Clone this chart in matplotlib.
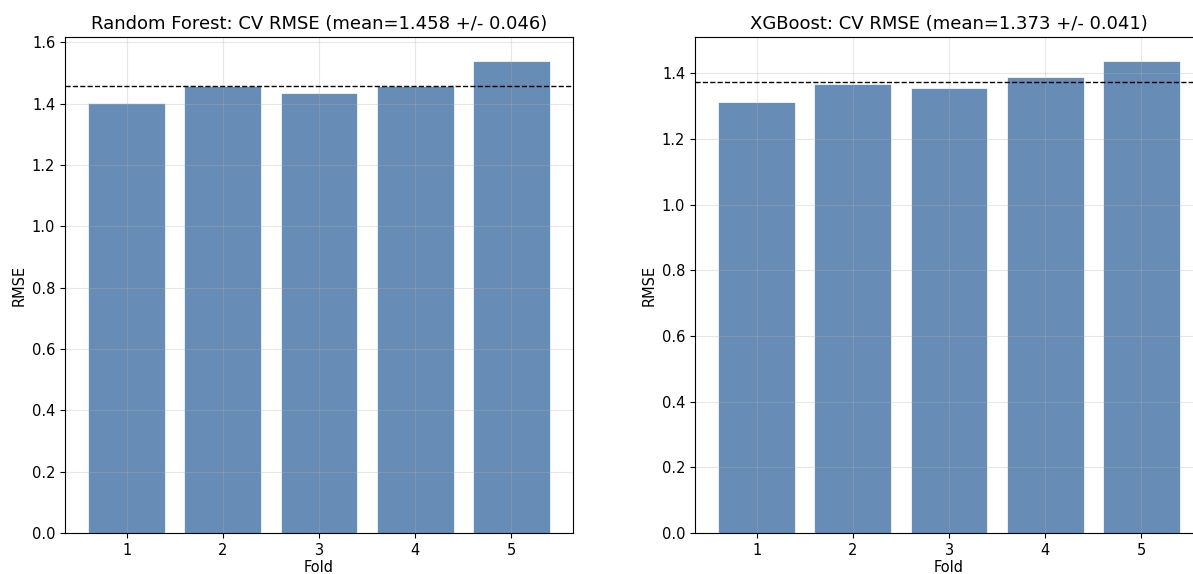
import matplotlib
matplotlib.use("Agg")
import matplotlib.pyplot as plt
import numpy as np

folds = [1, 2, 3, 4, 5]
rf_rmse = [1.402, 1.458, 1.436, 1.456, 1.540]
xgb_rmse = [1.313, 1.368, 1.356, 1.388, 1.438]
rf_title = "Random Forest: CV RMSE (mean=1.458 +/- 0.046)"
xgb_title = "XGBoost: CV RMSE (mean=1.373 +/- 0.041)"

W, H = 1193, 574
fig = plt.figure(figsize=(W / 100, H / 100), dpi=100)

def add_ax(left, bottom, right, top):
    return fig.add_axes([left / W, (H - bottom) / H, (right - left) / W, (bottom - top) / H])

ax1 = add_ax(65, 533, 573, 37)
ax2 = add_ax(695, 533, 1203, 37)

bar_color = "#4C78A8"
for ax, vals, title in [(ax1, rf_rmse, rf_title), (ax2, xgb_rmse, xgb_title)]:
    ax.bar(folds, vals, color=bar_color, alpha=0.85, edgecolor="white", linewidth=0.6)
    ax.axhline(np.mean(vals), color="black", linestyle="--", linewidth=1)
    ax.set_title(title, fontsize=13)
    ax.set_xlabel("Fold", fontsize=10.5, labelpad=2)
    ax.set_ylabel("RMSE", fontsize=10.5)
    ax.set_xticks(folds)
    ax.tick_params(labelsize=10.5)
    ax.grid(True, alpha=0.3)

fig.savefig("out.png", dpi=100)
